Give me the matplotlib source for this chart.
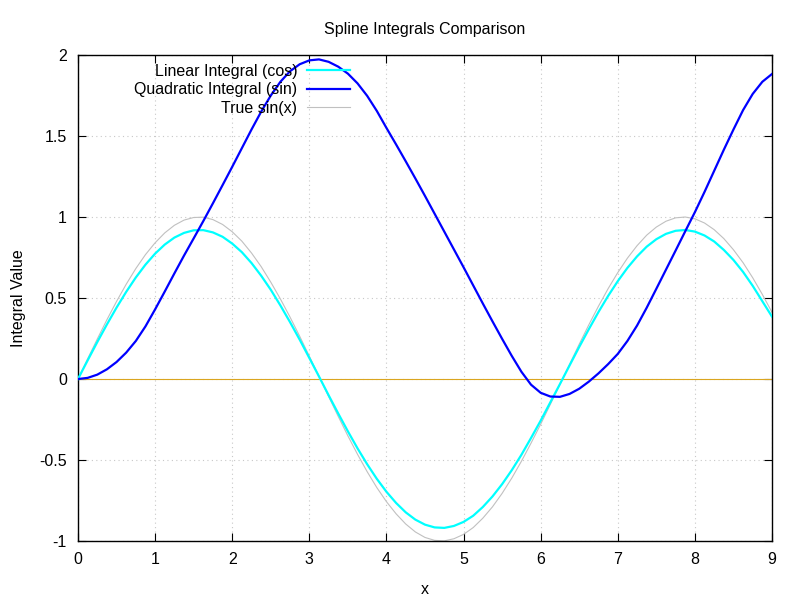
import matplotlib
matplotlib.use("Agg")
import matplotlib.pyplot as plt

# values, x step 0.125
x = [0.0, 0.125, 0.25, 0.375, 0.5, 0.625, 0.75, 0.875, 1.0, 1.125, 1.25, 1.375,
     1.5, 1.625, 1.75, 1.875, 2.0, 2.125, 2.25, 2.375, 2.5, 2.625, 2.75, 2.875,
     3.0, 3.125, 3.25, 3.375, 3.5, 3.625, 3.75, 3.875, 4.0, 4.125, 4.25, 4.375,
     4.5, 4.625, 4.75, 4.875, 5.0, 5.125, 5.25, 5.375, 5.5, 5.625, 5.75, 5.875,
     6.0, 6.125, 6.25, 6.375, 6.5, 6.625, 6.75, 6.875, 7.0, 7.125, 7.25, 7.375,
     7.5, 7.625, 7.75, 7.875, 8.0, 8.125, 8.25, 8.375, 8.5, 8.625, 8.75, 8.875,
     9.0]
linear_cos = [0.0, 0.115, 0.228, 0.337, 0.441, 0.538, 0.627, 0.706, 0.774,
              0.830, 0.873, 0.902, 0.918, 0.919, 0.905, 0.878, 0.836, 0.783,
              0.716, 0.638, 0.551, 0.454, 0.351, 0.243, 0.130, 0.016, -0.100,
              -0.213, -0.323, -0.428, -0.526, -0.616, -0.696, -0.765, -0.823,
              -0.868, -0.899, -0.916, -0.919, -0.907, -0.882, -0.844, -0.790,
              -0.725, -0.649, -0.563, -0.468, -0.364, -0.257, -0.144, -0.031,
              0.084, 0.198, 0.308, 0.414, 0.513, 0.604, 0.686, 0.757, 0.817,
              0.863, 0.896, 0.915, 0.920, 0.910, 0.886, 0.849, 0.797, 0.735,
              0.661, 0.575, 0.480, 0.385]
quad_sin = [0.0, 0.007, 0.027, 0.06, 0.105, 0.163, 0.235, 0.325, 0.43, 0.54,
            0.652, 0.762, 0.868, 0.975, 1.085, 1.197, 1.31, 1.425, 1.54, 1.65,
            1.75, 1.835, 1.9, 1.943, 1.967, 1.973, 1.958, 1.928, 1.885, 1.825,
            1.748, 1.655, 1.55, 1.448, 1.344, 1.238, 1.13, 1.02, 0.91, 0.80,
            0.69, 0.578, 0.466, 0.356, 0.248, 0.143, 0.045, -0.035, -0.085,
            -0.108, -0.11, -0.092, -0.06, -0.016, 0.035, 0.092, 0.155, 0.235,
            0.33, 0.44, 0.557, 0.675, 0.793, 0.912, 1.03, 1.155, 1.285, 1.415,
            1.54, 1.66, 1.76, 1.835, 1.883]
true_sin = [0.0, 0.125, 0.247, 0.366, 0.479, 0.585, 0.682, 0.768, 0.841,
            0.902, 0.949, 0.981, 0.997, 0.999, 0.984, 0.954, 0.909, 0.851,
            0.778, 0.694, 0.598, 0.494, 0.382, 0.264, 0.141, 0.017, -0.108,
            -0.231, -0.351, -0.465, -0.572, -0.670, -0.757, -0.832, -0.895,
            -0.944, -0.978, -0.996, -0.999, -0.986, -0.959, -0.917, -0.859,
            -0.789, -0.706, -0.612, -0.508, -0.396, -0.279, -0.157, -0.033,
            0.091, 0.215, 0.335, 0.450, 0.558, 0.657, 0.746, 0.823, 0.888,
            0.938, 0.974, 0.995, 1.000, 0.989, 0.963, 0.922, 0.867, 0.798,
            0.718, 0.625, 0.522, 0.412]

xticks = [0, 1, 2, 3, 4, 5, 6, 7, 8, 9]
yticks = [-1, -0.5, 0, 0.5, 1, 1.5, 2]
ytick_labels = ["-1", "-0.5", "0", "0.5", "1", "1.5", "2"]

plt.rcParams.update({"font.family": ["Liberation Sans", "DejaVu Sans"],
                     "font.size": 11.5, "axes.unicode_minus": False})

fig = plt.figure(figsize=(8, 6), dpi=100)
ax = fig.add_axes([0.0975, 0.0983, 0.8675, 0.81])

ax.axhline(0, color="#daa520", lw=0.8, zorder=1)
ax.plot(x, linear_cos, color="#00ffff", lw=1.6, label="Linear Integral (cos)", zorder=3)
ax.plot(x, quad_sin, color="#0000ff", lw=1.6, label="Quadratic Integral (sin)", zorder=4)
ax.plot(x, true_sin, color="#c0c0c0", lw=0.8, label="True sin(x)", zorder=2)

ax.set_xlim(0, 9)
ax.set_ylim(-1, 2)
ax.set_xticks(xticks)
ax.set_yticks(yticks)
ax.set_yticklabels(ytick_labels)
ax.tick_params(direction="in", top=True, right=True, length=6, width=0.8,
               pad=8, labelsize=11.5)
ax.grid(True, color="#c8c8c8", lw=0.8, linestyle=(0, (1, 3)))
ax.set_axisbelow(True)
for s in ax.spines.values():
    s.set_linewidth(1.0)

ax.set_title("Spline Integrals Comparison", fontsize=11.5, pad=15)
ax.set_xlabel("x")
ax.set_ylabel("Integral Value")
ax.xaxis.set_label_coords(0.5, -0.084)
ax.yaxis.set_label_coords(-0.075, 0.5)

leg = ax.legend(loc="upper right", bbox_to_anchor=(0.392, 0.982), frameon=False,
                markerfirst=False, handlelength=2.7, handletextpad=0.6,
                labelspacing=0.22, borderpad=0, borderaxespad=0, fontsize=11.5)

fig.savefig("out.png", dpi=100)
